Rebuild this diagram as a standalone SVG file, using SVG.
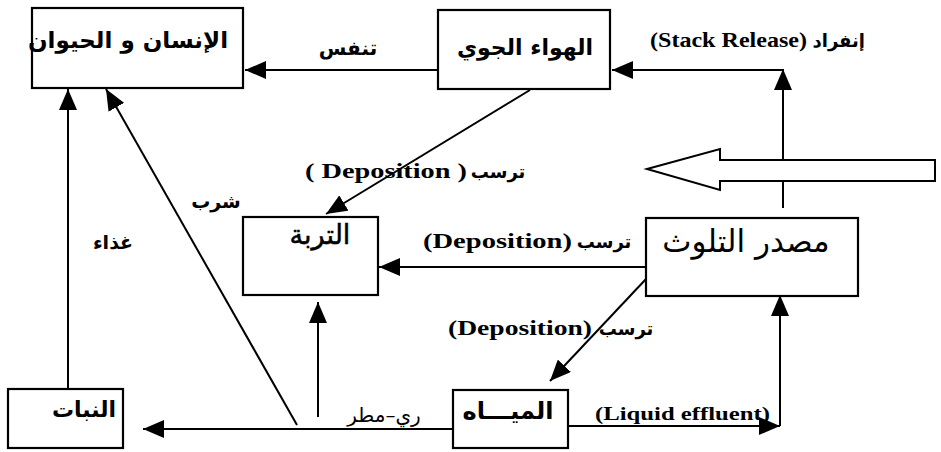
<svg xmlns="http://www.w3.org/2000/svg" width="941" height="452" viewBox="0 0 941 452">
<style>
.box{fill:#fff;stroke:#000;stroke-width:2.2}
.ln{fill:none;stroke:#000;stroke-width:2}
.ar{font-family:"DejaVu Sans","Noto Sans",sans-serif;font-weight:bold;fill:#000}
.arn{font-family:"DejaVu Sans","Noto Sans",sans-serif;font-weight:normal;fill:#000}
.en{font-family:"Liberation Serif","Times New Roman",serif;font-weight:bold;fill:#000}
</style>
<defs>
<marker id="ah" viewBox="0 0 21 18" refX="21" refY="9" markerWidth="21" markerHeight="18" orient="auto" markerUnits="userSpaceOnUse">
<path d="M0,0 L21,9 L0,18 z" fill="#000"/>
</marker>
</defs>
<rect width="941" height="452" fill="#fff"/>

<g id="connectors">
<line class="ln" x1="438" y1="70" x2="245" y2="70" marker-end="url(#ah)"/>
<line class="ln" x1="783" y1="208" x2="783" y2="69" marker-end="url(#ah)"/>
<line class="ln" x1="783" y1="70" x2="612" y2="70" marker-end="url(#ah)"/>
<line class="ln" x1="530" y1="90" x2="326" y2="214" marker-end="url(#ah)"/>
<line class="ln" x1="646" y1="267" x2="379" y2="267" marker-end="url(#ah)"/>
<line class="ln" x1="646" y1="279" x2="550" y2="381" marker-end="url(#ah)"/>
<line class="ln" x1="568" y1="426" x2="780" y2="426" marker-end="url(#ah)"/>
<line class="ln" x1="780" y1="426" x2="780" y2="295" marker-end="url(#ah)"/>
<line class="ln" x1="453" y1="429" x2="143" y2="429" marker-end="url(#ah)"/>
<line class="ln" x1="318" y1="417" x2="318" y2="302" marker-end="url(#ah)"/>
<line class="ln" x1="297" y1="425" x2="106" y2="89" marker-end="url(#ah)"/>
<line class="ln" x1="68" y1="389" x2="68" y2="89" marker-end="url(#ah)"/>
</g>

<g id="big-arrow">
<polygon points="647,169 720,149 720,160 935,160 935,181 720,181 720,190" fill="#fff" stroke="#000" stroke-width="2"/>
</g>

<g id="human-animal">
<rect class="box" x="32" y="8" width="211" height="80"/>
<text class="ar" x="128" y="48" font-size="23" text-anchor="middle">الإنسان و الحيوان</text>
</g>
<g id="air">
<rect class="box" x="438" y="10" width="172" height="79"/>
<text class="ar" x="525" y="55" font-size="22" text-anchor="middle">الهواء الجوي</text>
</g>
<g id="soil">
<rect class="box" x="243" y="217" width="135" height="78"/>
<text class="arn" x="320" y="244" font-size="27" text-anchor="middle" stroke="#000" stroke-width="0.5">التربة</text>
</g>
<g id="source">
<rect class="box" x="646" y="218" width="212" height="78"/>
<text class="arn" x="746" y="252" font-size="31" text-anchor="middle">مصدر التلوث</text>
</g>
<g id="plants">
<rect class="box" x="8" y="389" width="115" height="59"/>
<text class="ar" x="84" y="417" font-size="22" text-anchor="middle">النبات</text>
</g>
<g id="water">
<rect class="box" x="453" y="390" width="115" height="58"/>
<text class="ar" x="508" y="419" font-size="24" text-anchor="middle">الميـــاه</text>
</g>

<g id="labels">
<text class="ar" x="348" y="55" font-size="20" text-anchor="middle">تنفس</text>
<text class="en" x="650" y="47" font-size="21" textLength="157" lengthAdjust="spacingAndGlyphs">(Stack Release)</text>
<text class="ar" x="865" y="47" font-size="18" text-anchor="end">إنفراد</text>
<text class="en" x="305" y="178" font-size="21" textLength="162" lengthAdjust="spacingAndGlyphs">( Deposition )</text>
<text class="ar" x="498" y="178" font-size="18" text-anchor="middle">ترسب</text>
<text class="ar" x="216" y="208" font-size="19" text-anchor="middle">شرب</text>
<text class="ar" x="113" y="249" font-size="19" text-anchor="middle">غذاء</text>
<text class="en" x="423" y="248" font-size="21" textLength="149" lengthAdjust="spacingAndGlyphs">(Deposition)</text>
<text class="ar" x="604" y="248" font-size="18" text-anchor="middle">ترسب</text>
<text class="en" x="448" y="335" font-size="21" textLength="144" lengthAdjust="spacingAndGlyphs">(Deposition)</text>
<text class="ar" x="626" y="335" font-size="18" text-anchor="middle">ترسب</text>
<text class="arn" x="384" y="422" font-size="20" text-anchor="middle">ري–مطر</text>
<text class="en" x="595" y="420" font-size="19" textLength="175" lengthAdjust="spacingAndGlyphs">(Liquid effluent)</text>
</g>
</svg>
